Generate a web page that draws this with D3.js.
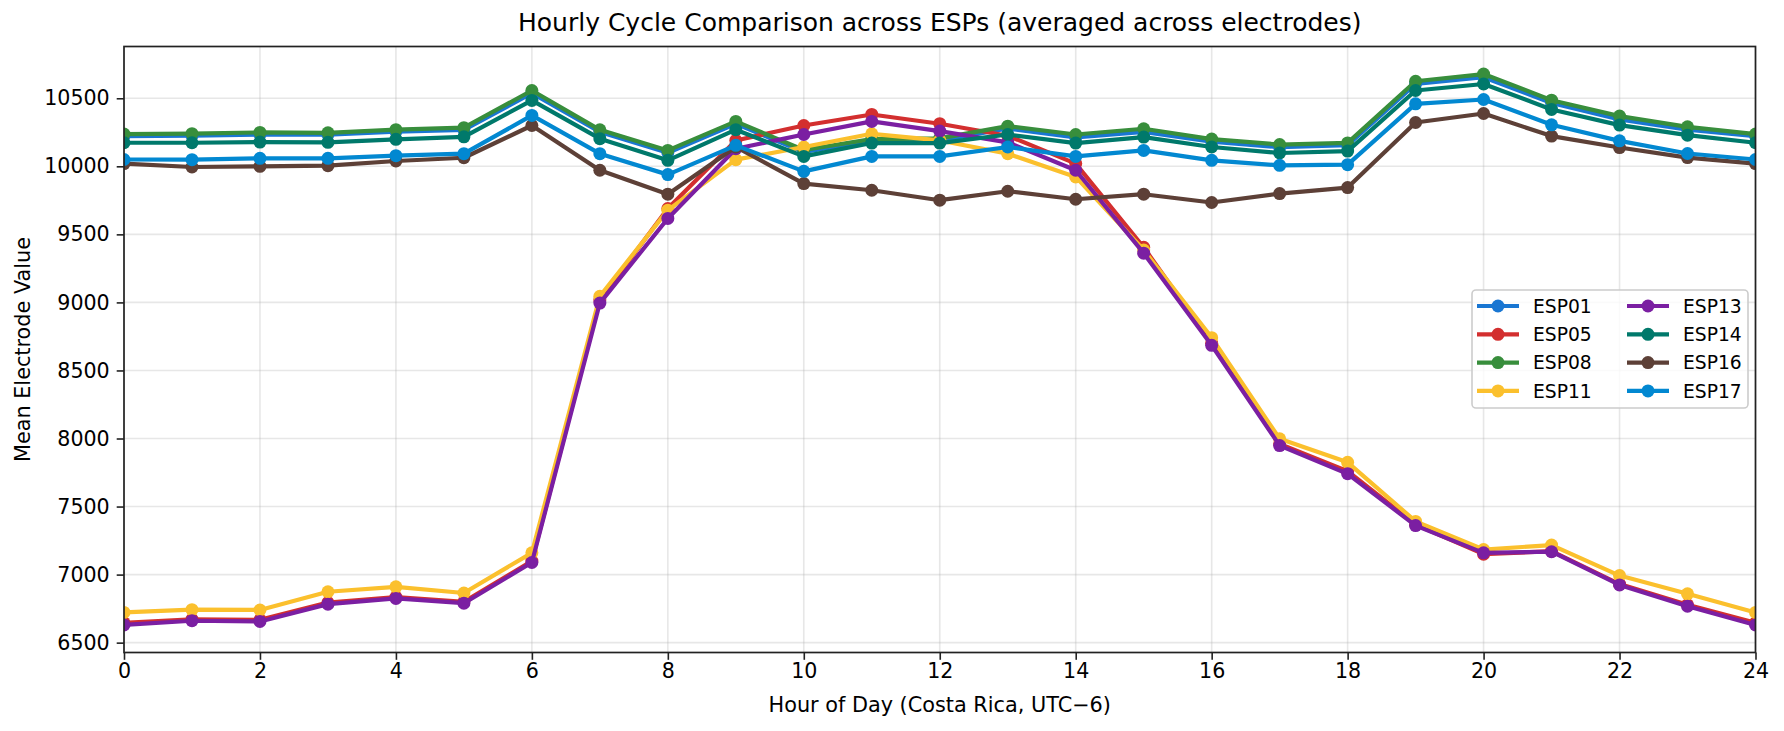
<!DOCTYPE html>
<html>
<head>
<meta charset="utf-8">
<script src="https://cdn.jsdelivr.net/npm/d3@7"></script>
<style>
  html, body { margin: 0; padding: 0; background: #fff; }
  svg { display: block; }
  text { font-family: "DejaVu Sans", sans-serif; fill: #000; }
</style>
</head>
<body>
<svg id="chart" width="1784" height="731"></svg>
<script>
const hours = d3.range(0, 25);
const seriesNames = ["ESP01", "ESP05", "ESP08", "ESP11", "ESP13", "ESP14", "ESP16", "ESP17"];
const seriesColors = ["#1976D2", "#D32F2F", "#388E3C", "#FBC02D", "#7B1FA2", "#00796B", "#5D4037", "#0288D1"];

const esp01 = [10222, 10225, 10233, 10232, 10255, 10268, 10537, 10252, 10100, 10312, 10105, 10186, 10188, 10278, 10212, 10252, 10182, 10140, 10155, 10605, 10655, 10465, 10345, 10270, 10222];
const esp05 = [6645, 6672, 6668, 6795, 6835, 6800, 7100, 9020, 9690, 10190, 10300, 10381, 10313, 10225, 10020, 9405, 8700, 7960, 7760, 7368, 7150, 7172, 6930, 6778, 6645];
const esp08 = [10237, 10240, 10249, 10246, 10269, 10284, 10557, 10268, 10117, 10330, 10120, 10200, 10205, 10295, 10234, 10276, 10200, 10160, 10172, 10625, 10678, 10486, 10369, 10290, 10237];
const esp11 = [6722, 6742, 6740, 6874, 6910, 6865, 7160, 9045, 9678, 10049, 10142, 10239, 10190, 10093, 9922, 9385, 8741, 7998, 7825, 7391, 7184, 7217, 6993, 6859, 6722];
const esp13 = [6630, 6661, 6656, 6783, 6825, 6790, 7089, 8995, 9617, 10129, 10234, 10330, 10259, 10176, 9971, 9362, 8685, 7948, 7741, 7360, 7160, 7168, 6924, 6768, 6630];
const esp14 = [10173, 10173, 10178, 10176, 10198, 10217, 10484, 10203, 10044, 10269, 10073, 10171, 10171, 10234, 10171, 10215, 10142, 10098, 10112, 10557, 10605, 10418, 10303, 10229, 10173];
const esp16 = [10020, 9995, 10000, 10005, 10039, 10063, 10300, 9971, 9795, 10142, 9873, 9824, 9751, 9817, 9758, 9795, 9734, 9800, 9844, 10322, 10388, 10222, 10138, 10064, 10020];
const esp17 = [10050, 10049, 10059, 10059, 10078, 10093, 10374, 10093, 9939, 10154, 9963, 10073, 10073, 10142, 10073, 10117, 10044, 10007, 10012, 10459, 10491, 10305, 10187, 10094, 10050];

const xTicks = d3.range(0, 25, 2);
const yTicks = d3.range(6500, 10501, 500);

const titleText = "Hourly Cycle Comparison across ESPs (averaged across electrodes)";
const xLabelText = "Hour of Day (Costa Rica, UTC\u22126)";
const yLabelText = "Mean Electrode Value";

const seriesValues = [esp01, esp05, esp08, esp11, esp13, esp14, esp16, esp17];
const series = seriesNames.map((n, i) => ({ name: n, color: seriesColors[i], values: seriesValues[i] }));

const svg = d3.select("#chart");
const L = 124, R = 1755.5, T = 46.5, B = 652.5;

const x = d3.scaleLinear().domain([0, 24]).range([L, R]);
const allVals = seriesValues.flat();
const vmin = d3.min(allVals), vmax = d3.max(allVals);
const pad = (vmax - vmin) * 0.05;
const y = d3.scaleLinear().domain([vmin - pad, vmax + pad]).range([B, T]);

// grid
const grid = svg.append("g");
grid.selectAll("line.gx").data(xTicks).enter().append("line")
  .attr("x1", d => x(d)).attr("x2", d => x(d)).attr("y1", T).attr("y2", B)
  .attr("stroke", "#b0b0b0").attr("stroke-opacity", 0.3).attr("stroke-width", 1.6);
grid.selectAll("line.gy").data(yTicks).enter().append("line")
  .attr("x1", L).attr("x2", R).attr("y1", d => y(d)).attr("y2", d => y(d))
  .attr("stroke", "#b0b0b0").attr("stroke-opacity", 0.3).attr("stroke-width", 1.6);

// clip
svg.append("clipPath").attr("id", "clip").append("rect")
  .attr("x", L).attr("y", T).attr("width", R - L).attr("height", B - T);

const line = d3.line().x((d, i) => x(hours[i])).y(d => y(d));
const plot = svg.append("g").attr("clip-path", "url(#clip)");
series.forEach(s => {
  const g = plot.append("g");
  g.append("path").attr("d", line(s.values)).attr("fill", "none")
    .attr("stroke", s.color).attr("stroke-width", 4.2).attr("stroke-linejoin", "round").attr("stroke-linecap", "butt");
  g.selectAll("circle").data(s.values).enter().append("circle")
    .attr("cx", (d, i) => x(hours[i])).attr("cy", d => y(d)).attr("r", 6.5).attr("fill", s.color);
});

// axes
const xAxis = d3.axisBottom(x).tickValues(xTicks).tickSize(7.3).tickPadding(3.5).tickFormat(d3.format("d"));
const yAxis = d3.axisLeft(y).tickValues(yTicks).tickSize(7.3).tickPadding(7).tickFormat(d3.format("d"));
const gx = svg.append("g").attr("transform", `translate(0,${B})`).call(xAxis);
const gy = svg.append("g").attr("transform", `translate(${L},0)`).call(yAxis);
[gx, gy].forEach(g => {
  g.select(".domain").remove();
  g.selectAll(".tick line").attr("stroke", "#222").attr("stroke-width", 1.6);
  g.selectAll(".tick text").attr("font-size", 20.6).attr("font-family", "DejaVu Sans").attr("fill", "#000");
});

// spines
svg.append("rect").attr("x", L).attr("y", T).attr("width", R - L).attr("height", B - T)
  .attr("fill", "none").attr("stroke", "#222").attr("stroke-width", 1.7);

// title & labels
svg.append("text").attr("x", (L + R) / 2).attr("y", 31).attr("text-anchor", "middle")
  .attr("font-size", 25).text(titleText);
svg.append("text").attr("x", (L + R) / 2).attr("y", 712).attr("text-anchor", "middle")
  .attr("font-size", 20.8).text(xLabelText);
svg.append("text").attr("transform", `translate(30,${(T + B) / 2}) rotate(-90)`).attr("text-anchor", "middle")
  .attr("font-size", 20.8).text(yLabelText);

// legend
const lg = svg.append("g");
const lgX = 1472, lgY = 290, lgW = 276, lgH = 118;
lg.append("rect").attr("x", lgX).attr("y", lgY).attr("width", lgW).attr("height", lgH)
  .attr("rx", 4).attr("fill", "#fff").attr("fill-opacity", 0.8)
  .attr("stroke", "#cccccc").attr("stroke-width", 1.6);
series.forEach((s, i) => {
  const col = Math.floor(i / 4), row = i % 4;
  const hx = lgX + 5 + col * 150;
  const cy = lgY + 16 + row * 28.3;
  lg.append("line").attr("x1", hx).attr("x2", hx + 42).attr("y1", cy).attr("y2", cy)
    .attr("stroke", s.color).attr("stroke-width", 4.2);
  lg.append("circle").attr("cx", hx + 21).attr("cy", cy).attr("r", 6.5).attr("fill", s.color);
  lg.append("text").attr("x", hx + 56).attr("y", cy).attr("dy", "0.36em")
    .attr("font-size", 18.7).text(s.name);
});
</script>
</body>
</html>
